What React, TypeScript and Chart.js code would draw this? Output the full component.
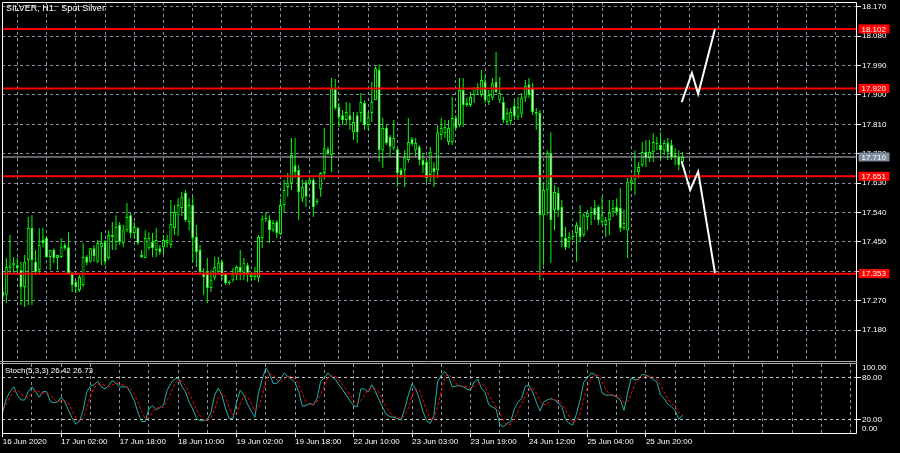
import React, { useEffect, useRef } from 'react';
import { Chart, registerables } from 'chart.js';

Chart.register(...registerables);

const chartTitle = 'SILVER, H1:  Spot Silver';
const stochTitle = 'Stoch(5,3,3) 26.42 26.73';

const timeLabels = ['16 Jun 2020', '17 Jun 02:00', '17 Jun 18:00', '18 Jun 10:00', '19 Jun 02:00', '19 Jun 18:00', '22 Jun 10:00', '23 Jun 03:00', '23 Jun 19:00', '24 Jun 12:00', '25 Jun 04:00', '25 Jun 20:00'];

const priceTicks = [17.18, 17.27, 17.36, 17.45, 17.54, 17.63, 17.72, 17.81, 17.9, 17.99, 18.08, 18.17];
const stochTickValues = [7, 20, 80, 95];
const stochTickLabels = ['0.00', '20.00', '80.00', '100.00'];

const redLevels = [18.102, 17.92, 17.651, 17.353];
const bidPrice = 17.71;

const forecastUpX = [185.8, 188.6, 190.3, 194.9];
const forecastUpY = [17.878, 17.967, 17.903, 18.102];
const forecastDownX = [185.8, 188.1, 190.3, 194.9];
const forecastDownY = [17.696, 17.609, 17.665, 17.355];

const opens = [17.297, 17.288, 17.370, 17.379, 17.379, 17.364, 17.312, 17.395, 17.493, 17.389, 17.364, 17.456, 17.462, 17.404, 17.425, 17.401, 17.404, 17.441, 17.434, 17.355, 17.327, 17.303, 17.318, 17.404, 17.389, 17.431, 17.389, 17.434, 17.450, 17.401, 17.465, 17.450, 17.502, 17.447, 17.486, 17.532, 17.477, 17.493, 17.410, 17.401, 17.431, 17.450, 17.425, 17.431, 17.434, 17.447, 17.441, 17.493, 17.532, 17.554, 17.600, 17.511, 17.563, 17.465, 17.425, 17.355, 17.358, 17.309, 17.340, 17.358, 17.389, 17.352, 17.327, 17.333, 17.352, 17.373, 17.355, 17.379, 17.349, 17.343, 17.340, 17.462, 17.520, 17.517, 17.486, 17.511, 17.474, 17.563, 17.618, 17.630, 17.685, 17.670, 17.584, 17.633, 17.630, 17.640, 17.572, 17.612, 17.661, 17.734, 17.716, 17.918, 17.863, 17.838, 17.823, 17.838, 17.786, 17.838, 17.845, 17.875, 17.808, 17.845, 17.884, 17.976, 17.731, 17.799, 17.771, 17.737, 17.734, 17.670, 17.670, 17.701, 17.765, 17.731, 17.741, 17.701, 17.695, 17.655, 17.676, 17.670, 17.777, 17.783, 17.756, 17.756, 17.829, 17.808, 17.915, 17.869, 17.869, 17.900, 17.915, 17.900, 17.940, 17.878, 17.891, 17.940, 17.884, 17.878, 17.817, 17.820, 17.866, 17.832, 17.842, 17.891, 17.933, 17.921, 17.842, 17.845, 17.532, 17.609, 17.722, 17.548, 17.600, 17.557, 17.462, 17.450, 17.465, 17.477, 17.496, 17.471, 17.526, 17.539, 17.554, 17.557, 17.511, 17.502, 17.517, 17.542, 17.557, 17.554, 17.493, 17.486, 17.630, 17.640, 17.664, 17.685, 17.725, 17.707, 17.725, 17.753, 17.747, 17.731, 17.753, 17.747, 17.710, 17.710, 17.695];

const highs = [17.318, 17.401, 17.471, 17.404, 17.401, 17.389, 17.410, 17.526, 17.532, 17.425, 17.493, 17.493, 17.468, 17.425, 17.431, 17.410, 17.462, 17.447, 17.480, 17.358, 17.333, 17.349, 17.447, 17.410, 17.431, 17.441, 17.456, 17.480, 17.456, 17.486, 17.511, 17.532, 17.511, 17.502, 17.569, 17.539, 17.511, 17.496, 17.425, 17.486, 17.480, 17.477, 17.493, 17.441, 17.471, 17.471, 17.578, 17.563, 17.584, 17.603, 17.609, 17.584, 17.588, 17.502, 17.441, 17.370, 17.401, 17.364, 17.404, 17.404, 17.395, 17.355, 17.333, 17.370, 17.379, 17.425, 17.401, 17.386, 17.355, 17.373, 17.471, 17.532, 17.542, 17.532, 17.517, 17.517, 17.584, 17.640, 17.661, 17.768, 17.768, 17.685, 17.640, 17.640, 17.646, 17.646, 17.584, 17.664, 17.799, 17.741, 17.952, 17.949, 17.875, 17.854, 17.878, 17.875, 17.848, 17.848, 17.906, 17.884, 17.848, 17.940, 17.988, 17.995, 17.829, 17.808, 17.777, 17.823, 17.737, 17.676, 17.731, 17.829, 17.771, 17.768, 17.747, 17.722, 17.701, 17.741, 17.695, 17.808, 17.829, 17.823, 17.823, 17.894, 17.838, 17.952, 17.952, 17.891, 17.909, 17.924, 17.936, 17.976, 17.961, 17.915, 17.952, 18.031, 17.955, 17.894, 17.860, 17.860, 17.884, 17.894, 17.906, 17.946, 17.952, 17.936, 17.860, 17.854, 17.630, 17.731, 17.786, 17.624, 17.618, 17.578, 17.496, 17.480, 17.477, 17.511, 17.563, 17.539, 17.548, 17.557, 17.578, 17.563, 17.588, 17.526, 17.578, 17.578, 17.584, 17.615, 17.548, 17.646, 17.655, 17.731, 17.695, 17.756, 17.762, 17.762, 17.783, 17.771, 17.786, 17.762, 17.768, 17.762, 17.737, 17.731, 17.725];

const lows = [17.266, 17.263, 17.355, 17.355, 17.358, 17.257, 17.251, 17.257, 17.257, 17.349, 17.349, 17.434, 17.401, 17.364, 17.386, 17.364, 17.401, 17.425, 17.355, 17.297, 17.297, 17.297, 17.312, 17.379, 17.386, 17.389, 17.386, 17.379, 17.379, 17.395, 17.425, 17.425, 17.441, 17.434, 17.480, 17.462, 17.462, 17.441, 17.401, 17.401, 17.425, 17.404, 17.404, 17.410, 17.413, 17.434, 17.431, 17.471, 17.468, 17.529, 17.511, 17.486, 17.389, 17.373, 17.349, 17.288, 17.263, 17.297, 17.333, 17.352, 17.333, 17.318, 17.318, 17.327, 17.333, 17.333, 17.333, 17.327, 17.333, 17.333, 17.327, 17.431, 17.511, 17.447, 17.480, 17.462, 17.471, 17.539, 17.588, 17.609, 17.646, 17.517, 17.572, 17.557, 17.624, 17.526, 17.563, 17.588, 17.640, 17.716, 17.664, 17.854, 17.802, 17.808, 17.808, 17.793, 17.762, 17.753, 17.817, 17.793, 17.793, 17.817, 17.884, 17.695, 17.676, 17.747, 17.710, 17.731, 17.618, 17.646, 17.618, 17.692, 17.744, 17.710, 17.685, 17.661, 17.633, 17.633, 17.618, 17.646, 17.762, 17.768, 17.747, 17.747, 17.793, 17.802, 17.802, 17.863, 17.863, 17.875, 17.900, 17.894, 17.875, 17.869, 17.884, 17.906, 17.875, 17.814, 17.808, 17.808, 17.823, 17.823, 17.829, 17.878, 17.891, 17.838, 17.793, 17.333, 17.379, 17.532, 17.386, 17.486, 17.526, 17.434, 17.425, 17.431, 17.456, 17.389, 17.450, 17.465, 17.486, 17.502, 17.517, 17.502, 17.502, 17.465, 17.471, 17.526, 17.532, 17.480, 17.486, 17.401, 17.609, 17.594, 17.646, 17.679, 17.679, 17.695, 17.695, 17.731, 17.701, 17.716, 17.701, 17.701, 17.685, 17.670, 17.679];

const closes = [17.282, 17.373, 17.379, 17.386, 17.370, 17.312, 17.389, 17.493, 17.395, 17.358, 17.441, 17.447, 17.404, 17.425, 17.401, 17.410, 17.434, 17.431, 17.355, 17.318, 17.312, 17.343, 17.404, 17.386, 17.431, 17.407, 17.447, 17.447, 17.389, 17.471, 17.471, 17.496, 17.450, 17.486, 17.526, 17.477, 17.496, 17.447, 17.404, 17.462, 17.462, 17.431, 17.456, 17.419, 17.456, 17.456, 17.505, 17.542, 17.563, 17.588, 17.517, 17.563, 17.462, 17.419, 17.358, 17.343, 17.309, 17.333, 17.373, 17.386, 17.346, 17.324, 17.324, 17.352, 17.373, 17.358, 17.386, 17.355, 17.343, 17.352, 17.465, 17.520, 17.523, 17.486, 17.508, 17.477, 17.563, 17.609, 17.630, 17.716, 17.664, 17.603, 17.618, 17.588, 17.640, 17.557, 17.575, 17.661, 17.737, 17.719, 17.918, 17.860, 17.832, 17.823, 17.848, 17.823, 17.817, 17.786, 17.878, 17.808, 17.832, 17.878, 17.982, 17.731, 17.799, 17.753, 17.741, 17.768, 17.661, 17.655, 17.710, 17.756, 17.750, 17.753, 17.701, 17.685, 17.646, 17.725, 17.664, 17.786, 17.799, 17.802, 17.799, 17.829, 17.799, 17.915, 17.869, 17.875, 17.894, 17.921, 17.924, 17.946, 17.884, 17.900, 17.936, 17.909, 17.906, 17.823, 17.845, 17.848, 17.835, 17.863, 17.891, 17.927, 17.900, 17.848, 17.848, 17.532, 17.609, 17.722, 17.517, 17.603, 17.548, 17.465, 17.434, 17.465, 17.468, 17.502, 17.465, 17.532, 17.539, 17.542, 17.532, 17.517, 17.532, 17.517, 17.539, 17.554, 17.542, 17.493, 17.508, 17.633, 17.640, 17.655, 17.679, 17.725, 17.707, 17.725, 17.756, 17.750, 17.731, 17.753, 17.725, 17.710, 17.716, 17.685, 17.710];

const stochMain = [30, 50, 60, 67, 55, 48, 48, 60, 67, 60, 52, 60, 60, 46, 44, 45, 52, 45, 33, 22, 13, 17, 33, 60, 68, 70, 75, 67, 64, 69, 76, 72, 67, 67, 67, 58, 47, 30, 17, 17, 35, 40, 34, 37, 41, 62, 72, 78, 80, 68, 60, 45, 35, 22, 18, 18, 20, 30, 55, 65, 55, 35, 21, 21, 45, 62, 55, 42, 32, 23, 58, 78, 94, 86, 72, 72, 78, 87, 82, 78, 73, 60, 39, 40, 43, 41, 50, 75, 80, 87, 82, 78, 70, 63, 55, 47, 40, 38, 64, 64, 60, 70, 60, 48, 37, 27, 24, 23, 21, 19, 35, 55, 71, 64, 50, 31, 18, 14, 26, 74, 84, 89, 82, 67, 68, 69, 67, 64, 62, 74, 78, 65, 59, 41, 38, 35, 13, 9.5, 14, 17, 35, 45, 50, 68, 69, 60, 45, 32, 45, 48, 50, 48, 44, 38, 20, 14, 12, 28, 48, 74, 80, 87, 85, 80, 58, 55, 55, 55, 52, 48, 33, 58, 80, 77, 78, 85, 84, 81, 78, 74, 55, 50, 42, 38, 33, 20, 26.42];

const stochSignal = [35, 42, 52, 60, 62, 58, 52, 52, 58, 62, 60, 58, 58, 55, 50, 45, 47, 47, 43, 33, 22, 17, 21, 37, 53, 66, 71, 71, 69, 67, 70, 72, 72, 69, 67, 64, 57, 45, 31, 21, 23, 31, 36, 37, 37, 47, 58, 71, 77, 75, 69, 58, 47, 34, 25, 19, 19, 23, 35, 50, 58, 52, 37, 26, 29, 43, 54, 53, 43, 32, 38, 53, 77, 86, 84, 77, 74, 79, 82, 82, 78, 70, 57, 46, 41, 41, 45, 55, 68, 81, 83, 82, 77, 70, 63, 55, 47, 42, 47, 55, 63, 65, 65, 59, 48, 37, 29, 25, 23, 21, 25, 36, 54, 63, 62, 48, 33, 21, 19, 38, 61, 82, 85, 79, 72, 68, 68, 67, 64, 67, 71, 72, 67, 55, 46, 38, 29, 19, 12, 13, 22, 32, 43, 54, 62, 66, 58, 46, 41, 42, 48, 49, 47, 43, 34, 24, 15, 18, 29, 50, 67, 80, 84, 84, 74, 64, 56, 55, 54, 52, 44, 46, 57, 72, 78, 80, 82, 83, 81, 78, 69, 60, 49, 43, 38, 30, 26.73];

const X_MIN = -0.19;
const X_MAX = 233.49;
const PRICE_MIN = 17.0825;
const PRICE_MAX = 18.1844;
const GRID_STEP = 8;
const LABEL_STEP = 16;

const GRID = '#8592a6';
const FONT = 'Liberation Sans';
const TRANSPARENT = 'rgba(0,0,0,0)';

function zeroPadding(s: any) {
  s.paddingTop = 0;
  s.paddingBottom = 0;
  s.paddingLeft = 0;
  s.paddingRight = 0;
}

function xScale(showLabels: boolean, height: number) {
  return {
    type: 'linear',
    position: 'bottom',
    min: X_MIN,
    max: X_MAX,
    offset: false,
    afterFit: (s: any) => { s.height = height; zeroPadding(s); },
    afterBuildTicks: (s: any) => {
      const t: any[] = [];
      for (let v = 0; v <= X_MAX; v += GRID_STEP) t.push({ value: v });
      s.ticks = t;
    },
    grid: {
      color: GRID,
      lineWidth: 1,
      drawTicks: showLabels,
      tickLength: 4,
      tickWidth: 1,
      tickColor: (c: any) => (c.tick && c.tick.value % LABEL_STEP === 0 && c.tick.value / LABEL_STEP < timeLabels.length ? '#ffffff' : TRANSPARENT),
    },
    border: { display: false, dash: [3, 3] },
    ticks: {
      display: showLabels,
      autoSkip: false,
      maxRotation: 0,
      minRotation: 0,
      align: 'start',
      padding: 0,
      color: '#ffffff',
      font: { family: FONT, size: 8 },
      callback: (v: number) => {
        const k = v / LABEL_STEP;
        return Number.isInteger(k) && k < timeLabels.length ? timeLabels[k] : '';
      },
    },
  };
}

export default function App() {
  const mainRef = useRef<HTMLCanvasElement>(null);
  const stochRef = useRef<HTMLCanvasElement>(null);

  useEffect(() => {
    document.body.style.margin = '0';
    document.body.style.background = '#000';

    const idx = closes.map((_, i) => i);
    const bull = idx.filter((i) => closes[i] >= opens[i]).map((i) => ({ x: i, y: [opens[i], closes[i]] }));
    const bear = idx.filter((i) => closes[i] < opens[i]).map((i) => ({ x: i, y: [opens[i], closes[i]] }));
    const wicks = idx.map((i) => ({ x: i, y: [lows[i], highs[i]] }));

    const levelLine = (v: number) => [{ x: X_MIN, y: v }, { x: X_MAX, y: v }];

    const mainDecor = {
      id: 'mainDecor',
      afterDraw(chart: any) {
        const ctx = chart.ctx;
        const ys = chart.scales.y;
        ctx.save();
        ctx.strokeStyle = '#ffffff';
        ctx.lineWidth = 1;
        ctx.beginPath();
        ctx.moveTo(2.5, 363);
        ctx.lineTo(2.5, 2.5);
        ctx.lineTo(856.5, 2.5);
        ctx.lineTo(856.5, 363);
        ctx.stroke();
        ctx.strokeStyle = '#a9a9a9';
        ctx.beginPath();
        ctx.moveTo(0, 361.5);
        ctx.lineTo(857, 361.5);
        ctx.stroke();
        ctx.fillStyle = '#ffffff';
        ctx.font = `9px "${FONT}"`;
        ctx.textBaseline = 'middle';
        ctx.textAlign = 'left';
        ctx.fillText(chartTitle, 6, 9);
        ctx.font = `8px "${FONT}"`;
        const box = (v: number, bg: string) => {
          const y = ys.getPixelForValue(v);
          ctx.fillStyle = bg;
          ctx.fillRect(858.5, y - 4.5, 31, 9);
          ctx.fillStyle = '#ffffff';
          ctx.fillText(v.toFixed(3), 861.5, y + 0.5);
        };
        box(bidPrice, '#7f8c9e');
        redLevels.forEach((v) => box(v, '#ff0000'));
        ctx.restore();
      },
    };

    const mainChart = new Chart(mainRef.current as HTMLCanvasElement, {
      type: 'bar',
      data: {
        datasets: [
          { type: 'bar', data: wicks, backgroundColor: '#00ff00', borderWidth: 0, barThickness: 1, grouped: false, order: 6, inflateAmount: 0 } as any,
          { type: 'bar', data: bull, backgroundColor: '#000000', borderColor: '#00ff00', borderWidth: 1, borderSkipped: false, barThickness: 3, grouped: false, order: 5, minBarLength: 1, inflateAmount: 0 } as any,
          { type: 'bar', data: bear, backgroundColor: '#ffffff', borderColor: '#00ff00', borderWidth: 1, borderSkipped: false, barThickness: 3, grouped: false, order: 5, minBarLength: 1, inflateAmount: 0 } as any,
          { type: 'line', data: levelLine(bidPrice), borderColor: '#c0c0c0', borderWidth: 1, pointRadius: 0, order: 4 } as any,
          ...redLevels.map((v) => ({ type: 'line', data: levelLine(v), borderColor: '#ff0000', borderWidth: 2, pointRadius: 0, order: 3 } as any)),
          { type: 'line', data: forecastUpX.map((x, i) => ({ x, y: forecastUpY[i] })), borderColor: '#ffffff', borderWidth: 2, pointRadius: 0, tension: 0, order: 1 } as any,
          { type: 'line', data: forecastDownX.map((x, i) => ({ x, y: forecastDownY[i] })), borderColor: '#ffffff', borderWidth: 2, pointRadius: 0, tension: 0, order: 1 } as any,
        ],
      },
      options: {
        responsive: false,
        animation: false,
        events: [],
        devicePixelRatio: 1,
        layout: { padding: { left: 2, top: 2, right: 0, bottom: 0 } },
        plugins: { legend: { display: false }, tooltip: { enabled: false }, title: { display: false } },
        scales: {
          x: xScale(false, 1) as any,
          y: {
            type: 'linear',
            position: 'right',
            min: PRICE_MIN,
            max: PRICE_MAX,
            afterFit: (s: any) => { s.width = 44; zeroPadding(s); },
            afterBuildTicks: (s: any) => { s.ticks = priceTicks.map((v) => ({ value: v })); },
            grid: { color: GRID, lineWidth: 1, drawTicks: true, tickLength: 5, tickColor: '#ffffff' },
            border: { display: false, dash: [3, 3] },
            ticks: {
              autoSkip: false,
              padding: 1,
              color: '#ffffff',
              font: { family: FONT, size: 8 },
              callback: (v: number) => v.toFixed(3),
            },
          } as any,
        },
      },
      plugins: [mainDecor],
    } as any);

    const stochDecor = {
      id: 'stochDecor',
      afterDraw(chart: any) {
        const ctx = chart.ctx;
        ctx.save();
        ctx.strokeStyle = '#ffffff';
        ctx.lineWidth = 1;
        ctx.beginPath();
        ctx.moveTo(2.5, 0);
        ctx.lineTo(2.5, 70.5);
        ctx.lineTo(856.5, 70.5);
        ctx.lineTo(856.5, 0);
        ctx.stroke();
        ctx.strokeStyle = '#a9a9a9';
        ctx.beginPath();
        ctx.moveTo(0, 0.5);
        ctx.lineTo(857, 0.5);
        ctx.stroke();
        ctx.fillStyle = '#ffffff';
        ctx.font = `8px "${FONT}"`;
        ctx.textBaseline = 'middle';
        ctx.textAlign = 'left';
        ctx.fillText(stochTitle, 5, 8);
        ctx.restore();
      },
    };

    const stochChart = new Chart(stochRef.current as HTMLCanvasElement, {
      type: 'line',
      data: {
        datasets: [
          { data: stochMain.map((v, i) => ({ x: i, y: v })), borderColor: '#20b2aa', borderWidth: 1, pointRadius: 0, tension: 0, order: 2 },
          { data: stochSignal.map((v, i) => ({ x: i, y: v })), borderColor: '#ff0000', borderWidth: 1, borderDash: [3, 2], pointRadius: 0, tension: 0, order: 1 },
        ],
      },
      options: {
        responsive: false,
        animation: false,
        events: [],
        devicePixelRatio: 1,
        layout: { padding: { left: 2, top: 1, right: 0, bottom: 0 } },
        plugins: { legend: { display: false }, tooltip: { enabled: false } },
        scales: {
          x: xScale(true, 19.8) as any,
          y: {
            type: 'linear',
            position: 'right',
            min: 0,
            max: 100,
            afterFit: (s: any) => { s.width = 44; zeroPadding(s); },
            afterBuildTicks: (s: any) => { s.ticks = stochTickValues.map((v) => ({ value: v })); },
            grid: {
              color: (c: any) => (c.tick && (c.tick.value === 20 || c.tick.value === 80) ? '#c8c8c8' : TRANSPARENT),
              lineWidth: 1,
              drawTicks: true,
              tickLength: 5,
              tickColor: (c: any) => (c.tick && (c.tick.value === 20 || c.tick.value === 80) ? '#ffffff' : TRANSPARENT),
            },
            border: { display: false, dash: [3, 3] },
            ticks: {
              autoSkip: false,
              padding: 1,
              color: '#ffffff',
              font: { family: FONT, size: 8 },
              callback: (v: number) => {
                const k = stochTickValues.indexOf(v);
                return k >= 0 ? stochTickLabels[k] : '';
              },
            },
          } as any,
        },
      },
      plugins: [stochDecor],
    } as any);

    return () => {
      mainChart.destroy();
      stochChart.destroy();
    };
  }, []);

  return (
    <div style={{ position: 'relative', width: 900, height: 453, background: '#000', overflow: 'hidden' }}>
      <canvas ref={mainRef} width={900} height={363} style={{ position: 'absolute', left: 0, top: 0, width: 900, height: 363 }} />
      <canvas ref={stochRef} width={900} height={90} style={{ position: 'absolute', left: 0, top: 363, width: 900, height: 90 }} />
    </div>
  );
}
